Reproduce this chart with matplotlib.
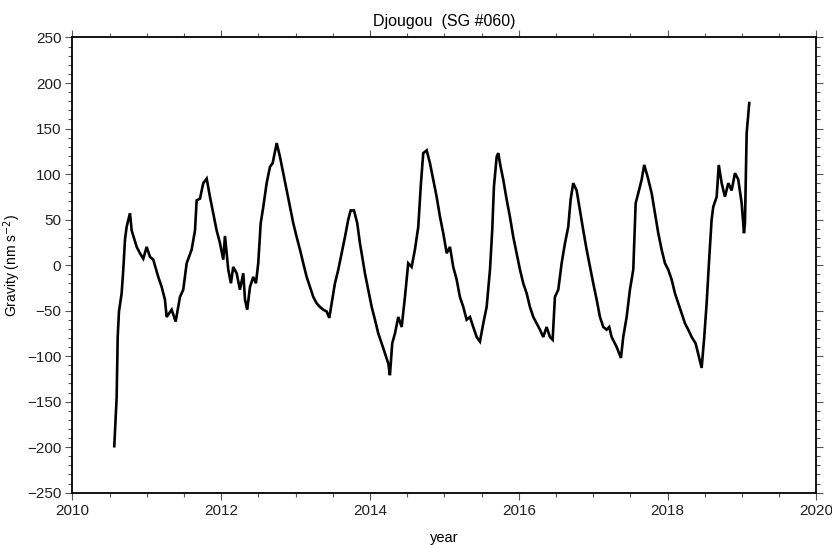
import matplotlib
matplotlib.use("Agg")
import matplotlib.pyplot as plt
from matplotlib.ticker import MultipleLocator

plt.rcParams['font.family'] = ['Liberation Sans', 'DejaVu Sans']

# time in years (decimal) and gravity residual in nm s^-2
years = [
    2010.562, 2010.594, 2010.608, 2010.625, 2010.661, 2010.683, 2010.706, 2010.728,
    2010.773, 2010.796, 2010.863, 2010.907, 2010.952, 2010.997, 2011.042, 2011.086,
    2011.153, 2011.199, 2011.243, 2011.266, 2011.333, 2011.387, 2011.445, 2011.489,
    2011.535, 2011.602, 2011.647, 2011.669, 2011.714, 2011.758, 2011.804, 2011.848,
    2011.892, 2011.938, 2011.983, 2012.027, 2012.050, 2012.094, 2012.130, 2012.161,
    2012.207, 2012.251, 2012.296, 2012.319, 2012.349, 2012.386, 2012.430, 2012.466,
    2012.497, 2012.530, 2012.565, 2012.610, 2012.655, 2012.691, 2012.745, 2012.789,
    2012.833, 2012.879, 2012.923, 2012.968, 2013.013, 2013.058, 2013.102, 2013.148,
    2013.192, 2013.237, 2013.282, 2013.327, 2013.371, 2013.417, 2013.452, 2013.484,
    2013.528, 2013.573, 2013.618, 2013.663, 2013.707, 2013.739, 2013.784, 2013.828,
    2013.864, 2013.887, 2013.931, 2013.976, 2014.022, 2014.066, 2014.110, 2014.156,
    2014.200, 2014.245, 2014.267, 2014.298, 2014.335, 2014.379, 2014.425, 2014.469,
    2014.513, 2014.559, 2014.603, 2014.648, 2014.684, 2014.715, 2014.761, 2014.805,
    2014.849, 2014.895, 2014.940, 2014.984, 2015.030, 2015.074, 2015.118, 2015.164,
    2015.208, 2015.253, 2015.298, 2015.343, 2015.387, 2015.433, 2015.477, 2015.522,
    2015.567, 2015.612, 2015.642, 2015.665, 2015.702, 2015.723, 2015.755, 2015.790,
    2015.836, 2015.880, 2015.925, 2015.970, 2016.015, 2016.059, 2016.105, 2016.149,
    2016.194, 2016.239, 2016.284, 2016.328, 2016.373, 2016.418, 2016.454, 2016.485,
    2016.530, 2016.575, 2016.620, 2016.664, 2016.696, 2016.731, 2016.777, 2016.821,
    2016.866, 2016.911, 2016.956, 2017.000, 2017.046, 2017.090, 2017.135, 2017.180,
    2017.215, 2017.247, 2017.315, 2017.372, 2017.403, 2017.449, 2017.493, 2017.538,
    2017.570, 2017.605, 2017.651, 2017.685, 2017.731, 2017.785, 2017.829, 2017.874,
    2017.919, 2017.964, 2018.008, 2018.054, 2018.098, 2018.143, 2018.188, 2018.233,
    2018.277, 2018.323, 2018.376, 2018.421, 2018.457, 2018.492, 2018.524, 2018.555,
    2018.591, 2018.613, 2018.659, 2018.687, 2018.726, 2018.770, 2018.815, 2018.860,
    2018.905, 2018.949, 2018.995, 2019.026, 2019.039, 2019.062, 2019.097,
]
gravity = [
    -199, -145, -79, -51, -31, -5, 28, 42,
    57, 38, 20, 13, 7, 20, 9, 6,
    -13, -24, -38, -57, -49, -62, -35, -27,
    2, 17, 38, 71, 73, 90, 95, 75,
    57, 38, 24, 6, 32, -5, -20, -2,
    -9, -27, -9, -38, -49, -24, -13, -20,
    2, 46, 64, 90, 108, 112, 134, 119,
    101, 82, 64, 46, 31, 17, 2, -13,
    -24, -35, -42, -46, -49, -51, -58, -42,
    -20, -5, 13, 31, 50, 60, 60, 46,
    24, 13, -9, -27, -46, -60, -75, -86,
    -97, -108, -121, -86, -75, -57, -68, -35,
    2, -2, 17, 42, 90, 123, 126, 112,
    94, 75, 53, 35, 13, 20, -2, -16,
    -35, -46, -60, -57, -68, -79, -84, -64,
    -46, -5, 38, 86, 119, 123, 108, 94,
    72, 53, 31, 13, -5, -20, -31, -46,
    -57, -64, -71, -79, -68, -79, -82, -35,
    -27, 2, 24, 42, 72, 90, 82, 60,
    38, 17, -2, -20, -38, -57, -68, -71,
    -68, -79, -90, -102, -79, -57, -27, -5,
    68, 79, 94, 110, 97, 79, 57, 35,
    17, 2, -5, -16, -31, -42, -53, -64,
    -71, -79, -86, -101, -113, -79, -42, 2,
    50, 64, 75, 110, 90, 75, 90, 82,
    101, 94, 68, 35, 46, 145, 178,
]

xticks = [2010, 2012, 2014, 2016, 2018, 2020]
yticks = [-250, -200, -150, -100, -50, 0, 50, 100, 150, 200, 250]

fig = plt.figure(figsize=(8.32, 5.45), dpi=100)
ax = fig.add_axes([0.0871, 0.0960, 0.8942, 0.8352])
ax.plot(years, gravity, color='black', linewidth=1.9, solid_joinstyle='miter')

ax.set_xlim(2010, 2020)
ax.set_ylim(-250, 250)
ax.set_xticks(xticks)
ax.set_yticks(yticks)
ax.xaxis.set_minor_locator(MultipleLocator(0.5))
ax.yaxis.set_minor_locator(MultipleLocator(10))

ax.tick_params(which='both', direction='out', top=True, right=True,
               labeltop=False, labelright=False, color='#555555', width=0.8)
ax.tick_params(which='major', length=5, labelsize=11, labelcolor='#222222', pad=3)
ax.tick_params(which='minor', length=3)
for s in ax.spines.values():
    s.set_linewidth(1.3)
    s.set_color('black')

ax.set_title('Djougou  (SG #060)', fontsize=11.5, pad=8)
ax.set_xlabel('year', fontsize=10.5)
ax.set_ylabel('Gravity (nm s$^{-2}$)', fontsize=10)
ax.xaxis.set_label_coords(0.5, -0.084)
ax.yaxis.set_label_coords(-0.066, 0.5)

fig.savefig('out.png', dpi=100)
